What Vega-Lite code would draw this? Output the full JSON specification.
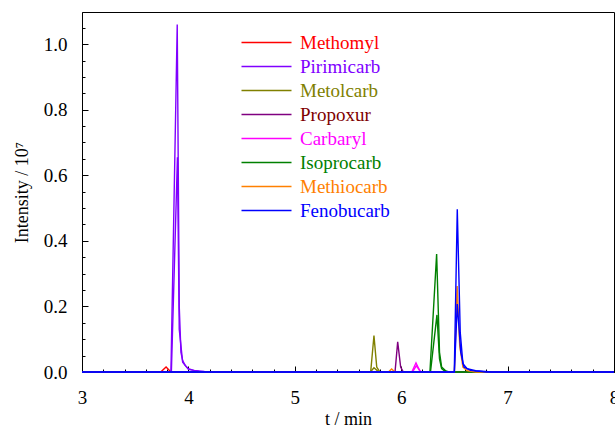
{
  "$schema": "https://vega.github.io/schema/vega-lite/v6.json",
  "width": 532,
  "height": 360,
  "autosize": "none",
  "padding": {"left": 82, "top": 12, "right": 1, "bottom": 58},
  "background": "white",
  "config": {
    "view": {"stroke": "#000", "strokeWidth": 1},
    "font": "Liberation Serif",
    "axis": {"grid": false, "domainColor": "#000", "tickColor": "#000", "labelColor": "#000", "titleColor": "#000", "labelFont": "Liberation Serif", "titleFont": "Liberation Serif", "labelFontSize": 19, "titleFontSize": 18, "titleFontWeight": "normal", "labelFlush": false, "labelOverlap": false}
  },
  "data": {
    "values": [
      {"compound": "Methomyl", "trace": "a", "t": 3.0, "intensity": 0},
      {"compound": "Methomyl", "trace": "a", "t": 3.74, "intensity": 0},
      {"compound": "Methomyl", "trace": "a", "t": 3.79, "intensity": 0.015},
      {"compound": "Methomyl", "trace": "a", "t": 3.836, "intensity": 0},
      {"compound": "Methomyl", "trace": "a", "t": 8.0, "intensity": 0},

      {"compound": "Pirimicarb", "trace": "a", "t": 3.0, "intensity": 0},
      {"compound": "Pirimicarb", "trace": "a", "t": 3.836, "intensity": 0},
      {"compound": "Pirimicarb", "trace": "a", "t": 3.895, "intensity": 1.06},
      {"compound": "Pirimicarb", "trace": "a", "t": 3.914, "intensity": 0.2},
      {"compound": "Pirimicarb", "trace": "a", "t": 3.93, "intensity": 0.06},
      {"compound": "Pirimicarb", "trace": "a", "t": 3.946, "intensity": 0.035},
      {"compound": "Pirimicarb", "trace": "a", "t": 3.97, "intensity": 0.02},
      {"compound": "Pirimicarb", "trace": "a", "t": 4.0, "intensity": 0.01},
      {"compound": "Pirimicarb", "trace": "a", "t": 4.05, "intensity": 0.005},
      {"compound": "Pirimicarb", "trace": "a", "t": 4.15, "intensity": 0.002},
      {"compound": "Pirimicarb", "trace": "a", "t": 4.3, "intensity": 0},
      {"compound": "Pirimicarb", "trace": "a", "t": 8.0, "intensity": 0},
      {"compound": "Pirimicarb", "trace": "b", "t": 3.0, "intensity": 0},
      {"compound": "Pirimicarb", "trace": "b", "t": 3.84, "intensity": 0},
      {"compound": "Pirimicarb", "trace": "b", "t": 3.897, "intensity": 0.655},
      {"compound": "Pirimicarb", "trace": "b", "t": 3.914, "intensity": 0.13},
      {"compound": "Pirimicarb", "trace": "b", "t": 3.946, "intensity": 0.03},
      {"compound": "Pirimicarb", "trace": "b", "t": 4.0, "intensity": 0.008},
      {"compound": "Pirimicarb", "trace": "b", "t": 4.1, "intensity": 0.002},
      {"compound": "Pirimicarb", "trace": "b", "t": 4.2, "intensity": 0},
      {"compound": "Pirimicarb", "trace": "b", "t": 8.0, "intensity": 0},

      {"compound": "Metolcarb", "trace": "a", "t": 3.0, "intensity": 0},
      {"compound": "Metolcarb", "trace": "a", "t": 5.713, "intensity": 0},
      {"compound": "Metolcarb", "trace": "a", "t": 5.744, "intensity": 0.111},
      {"compound": "Metolcarb", "trace": "a", "t": 5.77, "intensity": 0.015},
      {"compound": "Metolcarb", "trace": "a", "t": 5.8, "intensity": 0},
      {"compound": "Metolcarb", "trace": "a", "t": 8.0, "intensity": 0},
      {"compound": "Metolcarb", "trace": "b", "t": 3.0, "intensity": 0},
      {"compound": "Metolcarb", "trace": "b", "t": 5.71, "intensity": 0},
      {"compound": "Metolcarb", "trace": "b", "t": 5.744, "intensity": 0.013},
      {"compound": "Metolcarb", "trace": "b", "t": 5.79, "intensity": 0},
      {"compound": "Metolcarb", "trace": "b", "t": 8.0, "intensity": 0},

      {"compound": "Propoxur", "trace": "a", "t": 3.0, "intensity": 0},
      {"compound": "Propoxur", "trace": "a", "t": 5.942, "intensity": 0},
      {"compound": "Propoxur", "trace": "a", "t": 5.967, "intensity": 0.092},
      {"compound": "Propoxur", "trace": "a", "t": 5.995, "intensity": 0.015},
      {"compound": "Propoxur", "trace": "a", "t": 6.02, "intensity": 0},
      {"compound": "Propoxur", "trace": "a", "t": 8.0, "intensity": 0},

      {"compound": "Carbaryl", "trace": "a", "t": 3.0, "intensity": 0},
      {"compound": "Carbaryl", "trace": "a", "t": 6.1, "intensity": 0},
      {"compound": "Carbaryl", "trace": "a", "t": 6.139, "intensity": 0.028},
      {"compound": "Carbaryl", "trace": "a", "t": 6.18, "intensity": 0},
      {"compound": "Carbaryl", "trace": "a", "t": 8.0, "intensity": 0},
      {"compound": "Carbaryl", "trace": "b", "t": 3.0, "intensity": 0},
      {"compound": "Carbaryl", "trace": "b", "t": 6.105, "intensity": 0},
      {"compound": "Carbaryl", "trace": "b", "t": 6.142, "intensity": 0.019},
      {"compound": "Carbaryl", "trace": "b", "t": 6.185, "intensity": 0},
      {"compound": "Carbaryl", "trace": "b", "t": 8.0, "intensity": 0},

      {"compound": "Isoprocarb", "trace": "a", "t": 3.0, "intensity": 0},
      {"compound": "Isoprocarb", "trace": "a", "t": 6.27, "intensity": 0},
      {"compound": "Isoprocarb", "trace": "a", "t": 6.333, "intensity": 0.36},
      {"compound": "Isoprocarb", "trace": "a", "t": 6.36, "intensity": 0.06},
      {"compound": "Isoprocarb", "trace": "a", "t": 6.38, "intensity": 0.015},
      {"compound": "Isoprocarb", "trace": "a", "t": 6.42, "intensity": 0.003},
      {"compound": "Isoprocarb", "trace": "a", "t": 6.45, "intensity": 0},
      {"compound": "Isoprocarb", "trace": "a", "t": 8.0, "intensity": 0},
      {"compound": "Isoprocarb", "trace": "b", "t": 3.0, "intensity": 0},
      {"compound": "Isoprocarb", "trace": "b", "t": 6.275, "intensity": 0},
      {"compound": "Isoprocarb", "trace": "b", "t": 6.336, "intensity": 0.174},
      {"compound": "Isoprocarb", "trace": "b", "t": 6.36, "intensity": 0.04},
      {"compound": "Isoprocarb", "trace": "b", "t": 6.38, "intensity": 0.01},
      {"compound": "Isoprocarb", "trace": "b", "t": 6.42, "intensity": 0},
      {"compound": "Isoprocarb", "trace": "b", "t": 8.0, "intensity": 0},

      {"compound": "Methiocarb", "trace": "a", "t": 3.0, "intensity": 0},
      {"compound": "Methiocarb", "trace": "a", "t": 5.88, "intensity": 0},
      {"compound": "Methiocarb", "trace": "a", "t": 5.91, "intensity": 0.009},
      {"compound": "Methiocarb", "trace": "a", "t": 5.94, "intensity": 0},
      {"compound": "Methiocarb", "trace": "a", "t": 6.5, "intensity": 0},
      {"compound": "Methiocarb", "trace": "a", "t": 6.526, "intensity": 0.262},
      {"compound": "Methiocarb", "trace": "a", "t": 6.55, "intensity": 0.08},
      {"compound": "Methiocarb", "trace": "a", "t": 6.58, "intensity": 0.015},
      {"compound": "Methiocarb", "trace": "a", "t": 6.62, "intensity": 0.004},
      {"compound": "Methiocarb", "trace": "a", "t": 6.7, "intensity": 0},
      {"compound": "Methiocarb", "trace": "a", "t": 8.0, "intensity": 0},

      {"compound": "Fenobucarb", "trace": "a", "t": 3.0, "intensity": 0},
      {"compound": "Fenobucarb", "trace": "a", "t": 6.499, "intensity": 0},
      {"compound": "Fenobucarb", "trace": "a", "t": 6.527, "intensity": 0.496},
      {"compound": "Fenobucarb", "trace": "a", "t": 6.555, "intensity": 0.12},
      {"compound": "Fenobucarb", "trace": "a", "t": 6.58, "intensity": 0.025},
      {"compound": "Fenobucarb", "trace": "a", "t": 6.62, "intensity": 0.01},
      {"compound": "Fenobucarb", "trace": "a", "t": 6.7, "intensity": 0.004},
      {"compound": "Fenobucarb", "trace": "a", "t": 6.85, "intensity": 0},
      {"compound": "Fenobucarb", "trace": "a", "t": 8.0, "intensity": 0},
      {"compound": "Fenobucarb", "trace": "b", "t": 3.0, "intensity": 0},
      {"compound": "Fenobucarb", "trace": "b", "t": 6.5, "intensity": 0},
      {"compound": "Fenobucarb", "trace": "b", "t": 6.527, "intensity": 0.207},
      {"compound": "Fenobucarb", "trace": "b", "t": 6.56, "intensity": 0.06},
      {"compound": "Fenobucarb", "trace": "b", "t": 6.59, "intensity": 0.015},
      {"compound": "Fenobucarb", "trace": "b", "t": 6.65, "intensity": 0.005},
      {"compound": "Fenobucarb", "trace": "b", "t": 6.8, "intensity": 0},
      {"compound": "Fenobucarb", "trace": "b", "t": 8.0, "intensity": 0}
    ]
  },
  "layer": [
    {
      "mark": {"type": "line", "strokeWidth": 1.4},
      "encoding": {
        "x": {"field": "t", "type": "quantitative", "scale": {"domain": [3, 8], "nice": false, "zero": false},
          "axis": {"values": [3, 4, 5, 6, 7, 8], "format": "d", "tickSize": -6, "labelPadding": 22, "title": "t / min", "titlePadding": 3}},
        "y": {"field": "intensity", "type": "quantitative", "scale": {"domain": [0, 1.098], "nice": false, "zero": true},
          "axis": {"values": [0, 0.2, 0.4, 0.6, 0.8, 1.0], "format": ".1f", "tickSize": -6, "labelPadding": 21, "title": "Intensity / 10⁷", "titlePadding": 12}},
        "color": {"field": "compound", "type": "nominal",
          "scale": {"domain": ["Methomyl", "Pirimicarb", "Metolcarb", "Propoxur", "Carbaryl", "Isoprocarb", "Methiocarb", "Fenobucarb"],
            "range": ["#ff0000", "#8000ff", "#808000", "#800080", "#ff00ff", "#008000", "#ff8000", "#0000ff"]},
          "legend": {"title": null, "orient": "none", "legendX": 175, "legendY": 21, "symbolType": "M-5,0L5,0", "symbolSize": 100, "symbolStrokeWidth": 1.5,
            "labelFont": "Liberation Serif", "labelFontSize": 19, "labelOffset": 24, "rowPadding": 4, "padding": 0, "labelLimit": 0,
            "encode": {"labels": {"update": {"fill": {"signal": "datum.value === 'Propoxur' ? '#800000' : scale('color', datum.value)"}}}}}},
        "detail": {"field": "trace"}
      }
    },
    {
      "mark": {"type": "line", "opacity": 0},
      "encoding": {
        "x": {"field": "t", "type": "quantitative",
          "axis": {"orient": "bottom", "values": [3.2, 3.4, 3.6, 3.8, 4.2, 4.4, 4.6, 4.8, 5.2, 5.4, 5.6, 5.8, 6.2, 6.4, 6.6, 6.8, 7.2, 7.4, 7.6, 7.8], "labels": false, "domain": false, "tickSize": -3, "title": null}},
        "y": {"field": "intensity", "type": "quantitative",
          "axis": {"orient": "left", "values": [0.05, 0.1, 0.15, 0.25, 0.3, 0.35, 0.45, 0.5, 0.55, 0.65, 0.7, 0.75, 0.85, 0.9, 0.95, 1.05], "labels": false, "domain": false, "tickSize": -3, "title": null}},
        "detail": [{"field": "compound"}, {"field": "trace"}]
      }
    }
  ],
  "resolve": {"axis": {"x": "independent", "y": "independent"}}
}
